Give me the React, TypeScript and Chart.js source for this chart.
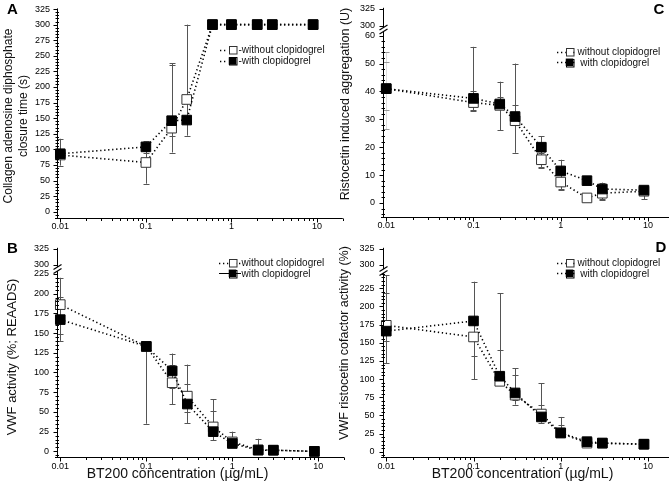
import React, { useEffect, useRef } from "react";
import { Chart, registerables } from "chart.js";

Chart.register(...registerables);

const FONT = '"Liberation Sans", Arial, Helvetica, sans-serif';

// ---------- shared ----------
const doses = [0.01, 0.1, 0.2, 0.3, 0.6, 1, 2, 3, 9];
const xMajorTicks = [0.01, 0.1, 1, 10];
const xTickLabels = ["0.01", "0.1", "1", "10"];
const xAxisTitle = "BT200 concentration (µg/mL)";
const seriesWithout = "without clopidogrel";
const seriesWith = "with clopidogrel";

type N = number | null;

// ---------- Panel A: collagen ADP closure time ----------
const aWithout = [91, 79, 134, 180, 300, 300, 300, 300, 300];
const aWith = [93, 104, 146, 147, 300, 300, 300, 300, 300];
const aWithoutLow: N[] = [74, 45, 121, 122, null, null, null, null, null];
const aWithoutHigh: N[] = [117, 97, 238, 300, null, null, null, null, null];
const aWithLow: N[] = [null, 95, 95, null, null, null, null, null, null];
const aWithHigh: N[] = [null, 113, 236, null, null, null, null, null, null];
const aYTicks = [0, 25, 50, 75, 100, 125, 150, 175, 200, 225, 250, 275, 300, 325];
const aYLabels = ["0", "25", "50", "75", "100", "125", "150", "175", "200", "225", "250", "275", "300", "325"];

// ---------- Panel B: VWF activity (REAADS) ----------
const bWithout = [186, 133, 87, 70, 31, 12, 2, 1.5, 0];
const bWith = [167, 133, 102, 60, 25, 10, 1.5, 1.5, 0];
const bWithoutLow: N[] = [149, null, 60, 50, null, null, null, null, null];
const bWithoutHigh: N[] = [220, null, 110, 110, 66, 25, null, null, null];
const bWithLow: N[] = [140, 35, 80, 36, 14, null, null, null, null];
const bWithHigh: N[] = [196, null, 124, 86, 51, 18, 16, null, null];
const bYTicks = [0, 25, 50, 75, 100, 125, 150, 175, 200, 225];
const bYLabels = ["0", "25", "50", "75", "100", "125", "150", "175", "200", "225"];
const bYUpperTicks = [300, 325];
const bYUpperLabels = ["300", "325"];

// ---------- Panel C: ristocetin induced aggregation ----------
const cWithout = [41, 36, 35, 29.5, 15.5, 7.5, 1.8, 3.5, 4.2];
const cWith = [41, 37.5, 35.5, 31, 20, 11.5, 8, 5, 4.6];
const cWithoutLow: N[] = [26.4, 33, 34, 28, 12.5, 4.7, null, 1.5, null];
const cWithoutHigh: N[] = [54, 40, 38, 35, 18, 9, null, 6, null];
const cWithLow: N[] = [33.3, 33.5, 26, 18, 13, 5, null, 1, 1.3];
const cWithHigh: N[] = [50.4, 56, 43.5, 50, 24, 15.5, 9.5, 7.3, 6];
const cYTicks = [0, 10, 20, 30, 40, 50, 60];
const cYLabels = ["0", "10", "20", "30", "40", "50", "60"];
const cYUpperTicks = [300, 325];
const cYUpperLabels = ["300", "325"];

// ---------- Panel D: VWF ristocetin cofactor activity ----------
const dWithout = [174, 158, 97, 78, 52, 26, 12, 12, 10.5];
const dWith = [166, 180, 104, 81, 48, 26, 14, 12, 10.5];
const dWithoutLow: N[] = [153, 132, 92, 71, 45, 22, null, null, null];
const dWithoutHigh: N[] = [243, 180, 140, 106, 65, 37, null, null, null];
const dWithLow: N[] = [122, 100, 93, 65, 40, 20, 10, null, null];
const dWithHigh: N[] = [218, 234, 218, 115, 94, 48, 17, null, null];
const dYTicks = [0, 25, 50, 75, 100, 125, 150, 175, 200, 225];
const dYLabels = ["0", "25", "50", "75", "100", "125", "150", "175", "200", "225"];
const dYUpperTicks = [300, 325];
const dYUpperLabels = ["300", "325"];

// ---------- layout types ----------
type Upper = { ticks: number[]; labels: string[]; from: number; to: number; pFrom: number; pTo: number; breakAt: number };
type LegendCfg = {
  rows: { text: string; filled: boolean; solid: boolean }[];
  ys: number[];
  lineFrom: number;
  lineTo: number;
  sqX: number;
  textX: number;
};
type PanelCfg = {
  key: string;
  cL: number; cT: number; cW: number; cH: number;
  aL: number; aT: number; aR: number; aB: number;
  xMin: number; xMax: number;
  yMin: number; yMax: number;
  yTicks: number[]; yLabels: string[];
  minorFrom: number; minorTo: number; minorStep: number;
  upper?: Upper;
  yPad: number;
  without: number[]; withV: number[];
  woLow: N[]; woHigh: N[]; wLow: N[]; wHigh: N[];
  faintErr?: number[];
  letter: string; letterX: number; letterY: number;
  yTitle: string[]; yTitleX: number[]; yTitleY: number; yTitleSize: number;
  xTitle?: string; xTitleX?: number; xTitleY?: number;
  legend: LegendCfg;
};

const panels: PanelCfg[] = [
  {
    key: "A",
    cL: 0, cT: 0, cW: 352, cH: 238,
    aL: 57, aT: 8.4, aR: 342.8, aB: 218,
    xMin: 0.00915, xMax: 20,
    yMin: -10, yMax: 326,
    yTicks: aYTicks, yLabels: aYLabels,
    minorFrom: -5, minorTo: 325, minorStep: 5,
    yPad: 7,
    without: aWithout, withV: aWith,
    woLow: aWithoutLow, woHigh: aWithoutHigh, wLow: aWithLow, wHigh: aWithHigh,
    letter: "A", letterX: 12.5, letterY: 8.5,
    yTitle: ["Collagen adenosine diphosphate", "closure time (s)"], yTitleX: [9, 24], yTitleY: 116, yTitleSize: 12,
    legend: {
      rows: [
        { text: "-" + seriesWithout, filled: false, solid: false },
        { text: "-" + seriesWith, filled: true, solid: false },
      ],
      ys: [49.5, 61], lineFrom: 220, lineTo: 228, sqX: 232.5, textX: 238.5,
    },
  },
  {
    key: "C",
    cL: 336, cT: 0, cW: 346, cH: 238,
    aL: 383, aT: 7.8, aR: 679, aB: 216.9,
    xMin: 0.00918, xMax: 20,
    yMin: -5, yMax: 70,
    yTicks: cYTicks, yLabels: cYLabels,
    minorFrom: -4, minorTo: 60, minorStep: 2,
    upper: { ticks: cYUpperTicks, labels: cYUpperLabels, from: 300, to: 325, pFrom: 63.6, pTo: 69.6, breakAt: 62.2 },
    yPad: 8,
    without: cWithout, withV: cWith,
    woLow: cWithoutLow, woHigh: cWithoutHigh, wLow: cWithLow, wHigh: cWithHigh,
    faintErr: [0],
    letter: "C", letterX: 659, letterY: 9,
    yTitle: ["Ristocetin induced aggregation (U)"], yTitleX: [345.5], yTitleY: 104, yTitleSize: 12.5,
    legend: {
      rows: [
        { text: seriesWithout, filled: false, solid: false },
        { text: " " + seriesWith, filled: true, solid: false },
      ],
      ys: [51.7, 62.3], lineFrom: 557, lineTo: 577, sqX: 569.5, textX: 577.5,
    },
  },
  {
    key: "B",
    cL: 0, cT: 240, cW: 352, cH: 247,
    aL: 57, aT: 247.3, aR: 344.2, aB: 457.3,
    xMin: 0.00916, xMax: 20,
    yMin: -7.5, yMax: 258,
    yTicks: bYTicks, yLabels: bYLabels,
    minorFrom: -5, minorTo: 225, minorStep: 5,
    upper: { ticks: bYUpperTicks, labels: bYUpperLabels, from: 300, to: 325, pFrom: 236.4, pTo: 256.6, breakAt: 231 },
    yPad: 8,
    without: bWithout, withV: bWith,
    woLow: bWithoutLow, woHigh: bWithoutHigh, wLow: bWithLow, wHigh: bWithHigh,
    letter: "B", letterX: 12.5, letterY: 247.5,
    yTitle: ["VWF activity (%; REAADS)"], yTitleX: [12.5], yTitleY: 357, yTitleSize: 13,
    xTitle: xAxisTitle, xTitleX: 177.5, xTitleY: 474,
    legend: {
      rows: [
        { text: seriesWithout, filled: false, solid: false },
        { text: seriesWith, filled: true, solid: true },
      ],
      ys: [262.7, 273.3], lineFrom: 219, lineTo: 241, sqX: 232.5, textX: 241.5,
    },
  },
  {
    key: "D",
    cL: 336, cT: 240, cW: 346, cH: 247,
    aL: 383, aT: 247.3, aR: 675.4, aB: 457.3,
    xMin: 0.00917, xMax: 20,
    yMin: -7.5, yMax: 280.6,
    yTicks: dYTicks, yLabels: dYLabels,
    minorFrom: -5, minorTo: 245, minorStep: 5,
    upper: { ticks: dYUpperTicks, labels: dYUpperLabels, from: 300, to: 325, pFrom: 257.5, pTo: 279, breakAt: 248.6 },
    yPad: 8.5,
    without: dWithout, withV: dWith,
    woLow: dWithoutLow, woHigh: dWithoutHigh, wLow: dWithLow, wHigh: dWithHigh,
    letter: "D", letterX: 661, letterY: 246.5,
    yTitle: ["VWF ristocetin cofactor activity (%)"], yTitleX: [344.5], yTitleY: 343, yTitleSize: 12.5,
    xTitle: xAxisTitle, xTitleX: 522.5, xTitleY: 474,
    legend: {
      rows: [
        { text: seriesWithout, filled: false, solid: false },
        { text: " " + seriesWith, filled: true, solid: false },
      ],
      ys: [262.7, 273.3], lineFrom: 557, lineTo: 577, sqX: 569.5, textX: 577.5,
    },
  },
];

const DASH = [1.3, 2.7];

function toPseudo(u: Upper, v: number) {
  return u.pFrom + ((v - u.from) * (u.pTo - u.pFrom)) / (u.to - u.from);
}

function logTickValues(max: number): number[] {
  const out: number[] = [];
  for (let e = -2; e <= 0; e++) {
    for (let k = 1; k <= 9; k++) out.push(parseFloat((k * Math.pow(10, e)).toPrecision(6)));
  }
  out.push(10);
  if (max >= 20) out.push(20);
  return out;
}

function isMajorX(v: number) {
  return xMajorTicks.findIndex((m) => Math.abs(v / m - 1) < 1e-6);
}

function makeDecor(p: PanelCfg, yTickVals: number[], xTickVals: number[]) {
  const line = (ctx: CanvasRenderingContext2D, x1: number, y1: number, x2: number, y2: number) => {
    ctx.beginPath();
    ctx.moveTo(x1, y1);
    ctx.lineTo(x2, y2);
    ctx.stroke();
  };
  return {
    id: "decor" + p.key,
    beforeDatasetsDraw(chart: any) {
      const ctx: CanvasRenderingContext2D = chart.ctx;
      const xs = chart.scales.x;
      const ys = chart.scales.y;
      ctx.save();
      ctx.lineWidth = 1;
      const bars = (vals: number[], lo: N[], hi: N[]) => {
        vals.forEach((v, i) => {
          const l = lo[i];
          const h = hi[i];
          if (l == null && h == null) return;
          const x = Math.round(xs.getPixelForValue(doses[i])) + 0.5;
          const y1 = ys.getPixelForValue(l == null ? v : l);
          const y2 = ys.getPixelForValue(h == null ? v : h);
          const faint = p.faintErr && p.faintErr.includes(i);
          ctx.strokeStyle = faint ? "#dddddd" : "#555555";
          line(ctx, x, y1, x, y2);
          ctx.strokeStyle = faint ? "#999999" : "#555555";
          if (l != null) line(ctx, x - 3, Math.round(y1) + 0.5, x + 3, Math.round(y1) + 0.5);
          if (h != null) line(ctx, x - 3, Math.round(y2) + 0.5, x + 3, Math.round(y2) + 0.5);
        });
      };
      bars(p.without, p.woLow, p.woHigh);
      bars(p.withV, p.wLow, p.wHigh);
      ctx.restore();
    },
    afterDraw(chart: any) {
      const ctx: CanvasRenderingContext2D = chart.ctx;
      const xs = chart.scales.x;
      const ys = chart.scales.y;
      const { left, right, top, bottom } = chart.chartArea;
      const ox = p.cL;
      const oy = p.cT;
      ctx.save();
      ctx.strokeStyle = "#000";
      ctx.lineWidth = 1;
      const ax = Math.round(left) + 0.5;
      const ay = Math.round(bottom) + 0.5;
      // y axis line (with optional break)
      if (p.upper) {
        const breakY = ys.getPixelForValue(p.upper.breakAt);
        line(ctx, ax, top, ax, breakY - 2);
        line(ctx, ax, breakY + 2, ax, ay);
        ctx.lineWidth = 1.2;
        line(ctx, ax - 4, breakY - 2 + 2.5, ax + 4, breakY - 2 - 2.5);
        line(ctx, ax - 4, breakY + 2 + 2.5, ax + 4, breakY + 2 - 2.5);
        ctx.lineWidth = 1;
      } else {
        line(ctx, ax, top, ax, ay);
      }
      // x axis line
      line(ctx, left - 2, ay, right, ay);
      // y major ticks
      yTickVals.forEach((v) => {
        const y = Math.round(ys.getPixelForValue(v)) + 0.5;
        line(ctx, ax - 4, y, ax, y);
      });
      // y minor ticks
      for (let v = p.minorFrom; v <= p.minorTo + 1e-9; v += p.minorStep) {
        if (p.yTicks.some((t) => Math.abs(t - v) < 1e-9)) continue;
        const y = Math.round(ys.getPixelForValue(v)) + 0.5;
        line(ctx, ax - 2, y, ax + 1.5, y);
      }
      // x ticks
      xTickVals.forEach((v) => {
        const x = Math.round(xs.getPixelForValue(v)) + 0.5;
        const len = isMajorX(v) >= 0 ? 4 : 2.5;
        line(ctx, x, ay, x, ay + len);
      });

      // panel letter
      ctx.fillStyle = "#000";
      ctx.font = `bold 15px ${FONT}`;
      ctx.textAlign = "center";
      ctx.textBaseline = "middle";
      ctx.fillText(p.letter, p.letterX - ox, p.letterY - oy + 1);

      // y title
      ctx.fillStyle = "#111";
      ctx.font = `${p.yTitleSize}px ${FONT}`;
      p.yTitle.forEach((t, i) => {
        ctx.save();
        ctx.translate(p.yTitleX[i] - ox, p.yTitleY - oy);
        ctx.rotate(-Math.PI / 2);
        ctx.textAlign = "center";
        ctx.textBaseline = "middle";
        ctx.fillText(t, 0, 0);
        ctx.restore();
      });

      // x title
      if (p.xTitle) {
        ctx.font = `14px ${FONT}`;
        ctx.textAlign = "center";
        ctx.textBaseline = "middle";
        ctx.fillText(p.xTitle, (p.xTitleX as number) - ox, (p.xTitleY as number) - oy);
      }

      // legend
      const lg = p.legend;
      lg.rows.forEach((r, i) => {
        const y = lg.ys[i] - oy;
        ctx.save();
        ctx.strokeStyle = "#000";
        if (r.solid) {
          ctx.lineWidth = 1;
          ctx.setLineDash([]);
        } else {
          ctx.lineWidth = 1.6;
          ctx.setLineDash(DASH);
        }
        line(ctx, lg.lineFrom - ox, Math.round(y) + 0.5, lg.lineTo - ox, Math.round(y) + 0.5);
        ctx.restore();
        const s = 7.5;
        const sx = lg.sqX - ox - s / 2;
        const sy = y - s / 2;
        ctx.fillStyle = r.filled ? "#000" : "#fff";
        ctx.fillRect(sx, sy, s, s);
        ctx.strokeStyle = r.filled ? "#000" : "#333";
        ctx.lineWidth = 1;
        ctx.strokeRect(Math.round(sx) + 0.5, Math.round(sy) + 0.5, s, s);
        ctx.fillStyle = "#111";
        ctx.font = `10px ${FONT}`;
        ctx.textAlign = "left";
        ctx.textBaseline = "middle";
        ctx.fillText(r.text, lg.textX - ox, y + 0.5);
      });
      ctx.restore();
    },
  };
}

function buildChart(canvas: HTMLCanvasElement, p: PanelCfg): Chart {
  const yTickVals = [...p.yTicks, ...(p.upper ? p.upper.ticks.map((v) => toPseudo(p.upper as Upper, v)) : [])];
  const yTickText = [...p.yLabels, ...(p.upper ? p.upper.labels : [])];
  const xTickVals = logTickValues(p.xMax);

  const common = {
    type: "line",
    showLine: true,
    borderColor: "#000",
    borderWidth: 1.6,
    borderDash: DASH,
    fill: false,
    tension: 0,
    pointStyle: "rect",
    pointRadius: 6.8,
    pointBorderWidth: 1,
    clip: false,
  };

  const config: any = {
    type: "line",
    data: {
      datasets: [
        {
          ...common,
          label: seriesWith,
          data: doses.map((x, i) => ({ x, y: p.withV[i] })),
          pointBackgroundColor: "#000",
          pointBorderColor: "#000",
        },
        {
          ...common,
          label: seriesWithout,
          data: doses.map((x, i) => ({ x, y: p.without[i] })),
          pointBackgroundColor: "#fff",
          pointBorderColor: "#333",
        },
      ],
    },
    options: {
      responsive: false,
      maintainAspectRatio: false,
      devicePixelRatio: 1,
      animation: false,
      events: [],
      layout: {
        padding: {
          left: 0,
          top: p.aT - p.cT,
          right: p.cL + p.cW - p.aR,
          bottom: 0,
        },
      },
      plugins: { legend: { display: false }, tooltip: { enabled: false } },
      scales: {
        x: {
          type: "logarithmic",
          position: "bottom",
          min: p.xMin,
          max: p.xMax,
          bounds: "data",
          grid: { display: false, drawTicks: false },
          border: { display: false },
          afterBuildTicks: (s: any) => {
            s.ticks = xTickVals.map((v) => ({ value: v }));
          },
          afterFit: (s: any) => {
            s.height = p.cT + p.cH - p.aB;
            s.paddingLeft = 0;
            s.paddingRight = 0;
            s.paddingTop = 0;
            s.paddingBottom = 0;
          },
          ticks: {
            autoSkip: false,
            maxRotation: 0,
            minRotation: 0,
            padding: 3.5,
            color: "#000",
            font: { family: FONT, size: 9 },
            callback: (v: number) => {
              const idx = isMajorX(v);
              return idx >= 0 ? xTickLabels[idx] : "";
            },
          },
        },
        y: {
          type: "linear",
          position: "left",
          min: p.yMin,
          max: p.yMax,
          bounds: "data",
          grid: { display: false, drawTicks: false },
          border: { display: false },
          afterBuildTicks: (s: any) => {
            s.ticks = yTickVals.map((v) => ({ value: v }));
          },
          afterFit: (s: any) => {
            s.width = p.aL - p.cL;
            s.paddingLeft = 0;
            s.paddingRight = 0;
            s.paddingTop = 0;
            s.paddingBottom = 0;
          },
          ticks: {
            autoSkip: false,
            padding: p.yPad,
            color: "#000",
            font: { family: FONT, size: 9 },
            callback: (_v: number, i: number) => yTickText[i],
          },
        },
      },
    },
    plugins: [makeDecor(p, yTickVals, xTickVals)],
  };
  return new Chart(canvas, config);
}

function PanelCanvas({ p }: { p: PanelCfg }) {
  const ref = useRef<HTMLCanvasElement | null>(null);
  useEffect(() => {
    if (!ref.current) return;
    const chart = buildChart(ref.current, p);
    return () => chart.destroy();
  }, [p]);
  return (
    <canvas
      ref={ref}
      width={p.cW}
      height={p.cH}
      style={{ position: "absolute", left: p.cL, top: p.cT, width: p.cW, height: p.cH }}
    />
  );
}

export default function App() {
  return (
    <div
      style={{
        position: "absolute",
        left: 0,
        top: 0,
        width: 669,
        height: 487,
        overflow: "hidden",
        background: "#fff",
      }}
    >
      {panels.map((p) => (
        <PanelCanvas key={p.key} p={p} />
      ))}
    </div>
  );
}
